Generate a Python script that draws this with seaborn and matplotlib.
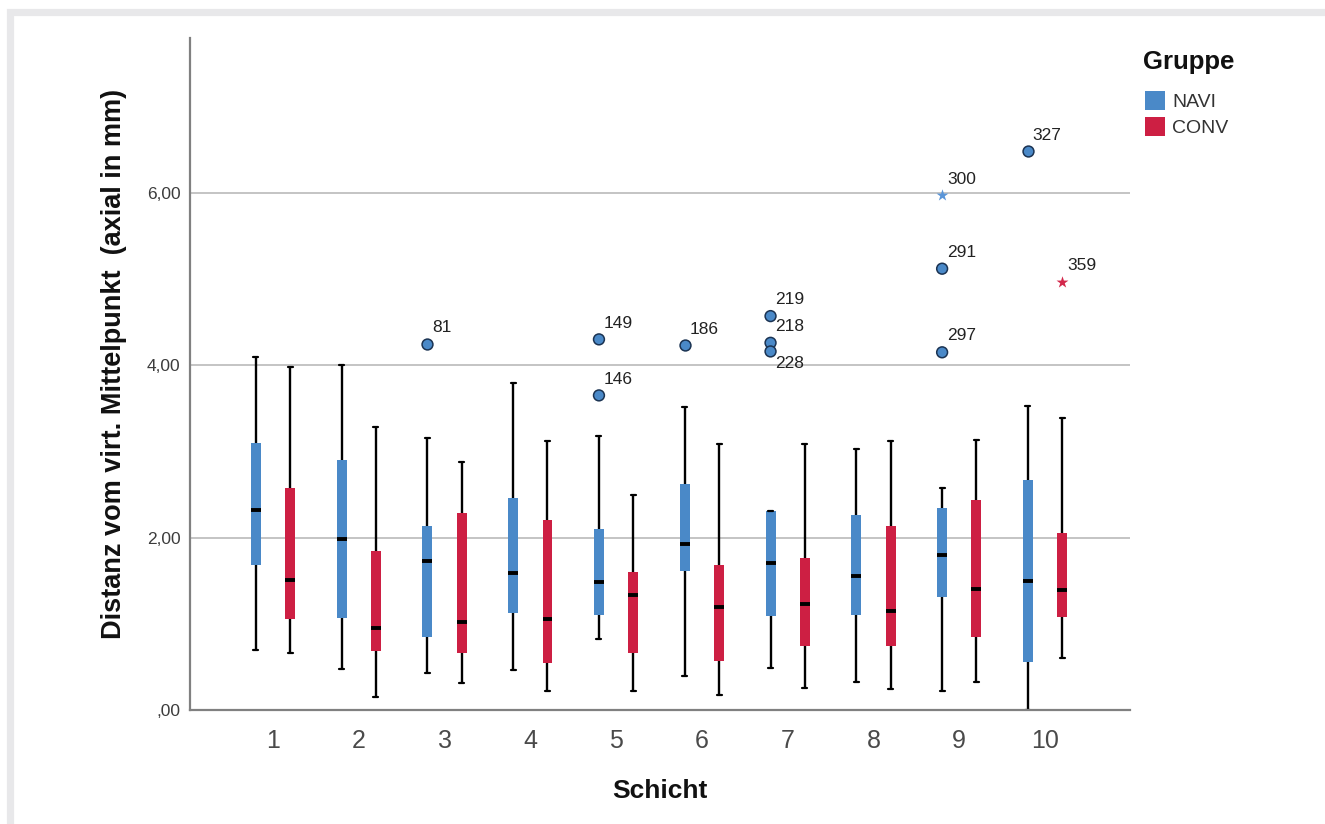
import numpy as np
import pandas as pd
import matplotlib.pyplot as plt
import seaborn as sns
from matplotlib.patches import Patch, Rectangle

schichten = ['1', '2', '3', '4', '5', '6', '7', '8', '9', '10']
gruppen = ['NAVI', 'CONV']

navi_min = [0.70, 0.47, 0.43, 0.46, 0.82, 0.39, 0.49, 0.32, 0.22, 0.00]
navi_q1 = [1.68, 1.07, 0.85, 1.13, 1.10, 1.61, 1.09, 1.10, 1.31, 0.56]
navi_med = [2.32, 1.98, 1.73, 1.59, 1.49, 1.93, 1.71, 1.56, 1.80, 1.50]
navi_q3 = [3.10, 2.90, 2.13, 2.46, 2.10, 2.62, 2.31, 2.26, 2.34, 2.67]
navi_max = [4.10, 4.00, 3.15, 3.79, 3.18, 3.52, 2.31, 3.03, 2.58, 3.53]

conv_min = [0.66, 0.15, 0.31, 0.22, 0.22, 0.17, 0.26, 0.24, 0.32, 0.60]
conv_q1 = [1.05, 0.68, 0.66, 0.54, 0.66, 0.57, 0.74, 0.74, 0.85, 1.08]
conv_med = [1.51, 0.95, 1.02, 1.05, 1.33, 1.20, 1.23, 1.15, 1.40, 1.39]
conv_q3 = [2.58, 1.85, 2.29, 2.20, 1.60, 1.68, 1.76, 2.13, 2.44, 2.05]
conv_max = [3.98, 3.28, 2.88, 3.12, 2.49, 3.09, 3.09, 3.12, 3.13, 3.39]

# Ausreisser (o) und Extremwerte (*)
out_schicht = ['3', '5', '5', '6', '7', '7', '7', '9', '9', '9', '10', '10']
out_gruppe = ['NAVI', 'NAVI', 'NAVI', 'NAVI', 'NAVI', 'NAVI', 'NAVI', 'NAVI', 'NAVI', 'NAVI', 'NAVI', 'CONV']
out_wert = [4.25, 4.30, 3.65, 4.23, 4.57, 4.26, 4.16, 5.97, 5.12, 4.15, 6.48, 4.97]
out_id = ['81', '149', '146', '186', '219', '218', '228', '300', '291', '297', '327', '359']
out_typ = ['o', 'o', 'o', 'o', 'o', 'o', 'o', '*', 'o', 'o', 'o', '*']

y_ticks = [0, 2, 4, 6]
y_ticklabels = [',00', '2,00', '4,00', '6,00']

farben = {'NAVI': '#4a89c8', 'CONV': '#cd1f43'}
stern_farben = {'NAVI': '#5a95d8', 'CONV': '#d3284b'}

# 5 Werte je Box -> Quartile/Median exakt, Whisker = Min/Max
rows = []
for g, werte in [('NAVI', (navi_min, navi_q1, navi_med, navi_q3, navi_max)),
                 ('CONV', (conv_min, conv_q1, conv_med, conv_q3, conv_max))]:
    for i, s in enumerate(schichten):
        for arr in werte:
            rows.append({'Schicht': s, 'Gruppe': g, 'Distanz': arr[i]})
df = pd.DataFrame(rows)

df_out = pd.DataFrame({'Schicht': out_schicht, 'Gruppe': out_gruppe, 'Distanz': out_wert,
                       'ID': out_id, 'Typ': out_typ})

sns.set_style('white')
plt.rcParams['font.family'] = ['Liberation Sans', 'DejaVu Sans']

fig = plt.figure(figsize=(13.25, 8.24), dpi=100)
ax = fig.add_axes([190 / 1325, 1 - 710 / 824, 940 / 1325, 672.3 / 824])

sns.boxplot(data=df, x='Schicht', y='Distanz', hue='Gruppe', order=schichten, hue_order=gruppen,
            palette=farben, saturation=1, whis=(0, 100), width=0.8, gap=0.71, linecolor='black',
            linewidth=1.7, fliersize=0, boxprops=dict(edgecolor='none'),
            medianprops=dict(linewidth=2.8, color='black'), capprops=dict(linewidth=1.6),
            legend=False, ax=ax)

kreise = df_out[df_out['Typ'] == 'o']
sns.stripplot(data=kreise, x='Schicht', y='Distanz', hue='Gruppe', order=schichten, hue_order=gruppen,
              palette=farben, dodge=True, jitter=False, size=7.8, linewidth=1.1, edgecolor='#1b3352',
              legend=False, ax=ax, zorder=5)
sterne = df_out[df_out['Typ'] == '*']
sns.stripplot(data=sterne, x='Schicht', y='Distanz', hue='Gruppe', order=schichten, hue_order=gruppen,
              palette=stern_farben, dodge=True, jitter=False, size=9, linewidth=0, marker='*',
              legend=False, ax=ax, zorder=5)

# Fallnummern
dodge = {'NAVI': -0.2, 'CONV': 0.2}
for _, r in df_out.iterrows():
    xpos = schichten.index(r['Schicht']) + dodge[r['Gruppe']]
    if r['ID'] == '228':
        ax.annotate(r['ID'], (xpos, r['Distanz']), xytext=(3.5, -3.5), textcoords='offset points',
                    ha='left', va='top', fontsize=12.5, color='#222222')
    else:
        ax.annotate(r['ID'], (xpos, r['Distanz']), xytext=(3.5, 8.5), textcoords='offset points',
                    ha='left', va='baseline', fontsize=12.5, color='#222222')

ax.set_xlim(-0.967, 9.99)
ax.set_ylim(0, 7.8)
ax.set_yticks(y_ticks)
ax.set_yticklabels(y_ticklabels)
ax.yaxis.grid(True, color='#c4c4c4', linewidth=1.4)
ax.xaxis.grid(False)
ax.set_axisbelow(True)
for gl, t in zip(ax.yaxis.get_gridlines(), y_ticks):
    if t == 0:
        gl.set_visible(False)

sns.despine(ax=ax)
for sp in ['left', 'bottom']:
    ax.spines[sp].set_color('#808080')
    ax.spines[sp].set_linewidth(1.6)

ax.tick_params(axis='y', length=5, width=1.2, color='#808080', labelsize=12.5, labelcolor='#3c3c3c', pad=2)
ax.tick_params(axis='x', length=0, pad=13.5, labelcolor='#4a4a4a')
for lab in ax.get_xticklabels():
    lab.set_family(['Liberation Sans Narrow', 'Liberation Sans'])
    lab.set_fontsize(18)

ax.set_xlabel('Schicht', fontsize=19, fontweight='bold', color='#111111')
ax.set_ylabel('Distanz vom virt. Mittelpunkt  (axial in mm)', fontsize=19.5, fontweight='bold', color='#111111')
ax.xaxis.set_label_coords(0.5, -0.1026)
ax.yaxis.set_label_coords(-0.067, 0.5147)

# Legende
fig.text(1143 / 1325, 1 - 50 / 824, 'Gruppe', ha='left', va='top', fontsize=18.5, fontweight='bold',
         color='#111111')
handles = [Patch(facecolor=farben[g], edgecolor='none') for g in gruppen]
fig.legend(handles, gruppen, loc='upper left', bbox_to_anchor=(1145 / 1325, 1 - 91 / 824),
           frameon=False, fontsize=14, handlelength=1.05, handleheight=1.1, handletextpad=0.35,
           labelspacing=0.32, borderpad=0, borderaxespad=0, labelcolor='#333333')

# heller Rahmen um die Grafik
fig.patches.append(Rectangle((9.5 / 1325, -1.5 / 824), 1317 / 1325, 814 / 824, transform=fig.transFigure,
                             fill=False, edgecolor='#e8e8ea', linewidth=5.2, clip_on=False))

fig.savefig('out.png', dpi=100)
